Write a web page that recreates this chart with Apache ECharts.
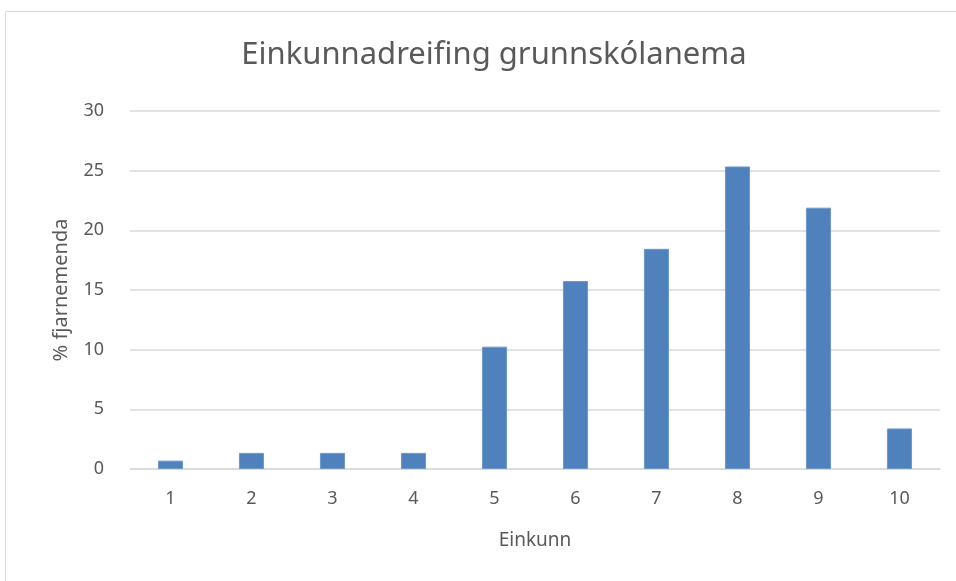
<!DOCTYPE html>
<html>
<head>
<meta charset="utf-8">
<script src="https://cdn.jsdelivr.net/npm/echarts@6/dist/echarts.min.js"></script>
<style>
  html, body { margin: 0; padding: 0; background: #fff; }
  #chart { width: 956px; height: 581px; }
</style>
</head>
<body>
<div id="chart"></div>
<script>
// Einkunnir (flokkar á x-ás)
var grades = ['1', '2', '3', '4', '5', '6', '7', '8', '9', '10'];
// % fjarnemenda, lesið af myndinni
var percents = [0.7, 1.35, 1.35, 1.35, 10.25, 15.75, 18.45, 25.35, 21.9, 3.4];
var yTicks = [0, 5, 10, 15, 20, 25, 30];

var chart = echarts.init(document.getElementById('chart'));
var font = 'Noto Sans';
var option = {
    backgroundColor: '#fff',
    animation: false,
    title: {
        text: 'Einkunnadreifing grunnskólanema',
        left: 489,
        top: 35,
        textAlign: 'center',
        textStyle: {
            fontFamily: font,
            fontSize: 31,
            fontWeight: 'normal',
            color: '#595959'
        }
    },
    graphic: [{
        type: 'rect',
        shape: { x: 5.5, y: 11.5, width: 1000, height: 700 },
        style: { fill: 'none', stroke: '#d9d9d9', lineWidth: 1 },
        silent: true,
        z: -1
    }],
    grid: { left: 130, right: 16, top: 111, bottom: 112 },
    xAxis: {
        type: 'category',
        data: grades,
        name: 'Einkunn',
        nameLocation: 'middle',
        nameGap: 62,
        nameTextStyle: { fontFamily: font, fontSize: 19, color: '#595959' },
        axisLine: { lineStyle: { color: '#d9d9d9', width: 1.5 } },
        axisTick: { show: false },
        axisLabel: { fontFamily: font, fontSize: 18, color: '#595959', margin: 21 }
    },
    yAxis: {
        type: 'value',
        min: yTicks[0],
        max: yTicks[yTicks.length - 1],
        interval: 5,
        name: '% fjarnemenda',
        nameLocation: 'middle',
        nameGap: 59,
        nameTextStyle: { fontFamily: font, fontSize: 20, color: '#595959' },
        axisLine: { show: false },
        axisTick: { show: false },
        axisLabel: { fontFamily: font, fontSize: 18, color: '#595959', margin: 26 },
        splitLine: { lineStyle: { color: '#d9d9d9', width: 1.5 } }
    },
    series: [{
        type: 'bar',
        data: percents,
        barWidth: '31%',
        itemStyle: { color: '#4f81bd', borderColor: '#6f97c8', borderWidth: 1 }
    }]
};
chart.setOption(option);
</script>
</body>
</html>
